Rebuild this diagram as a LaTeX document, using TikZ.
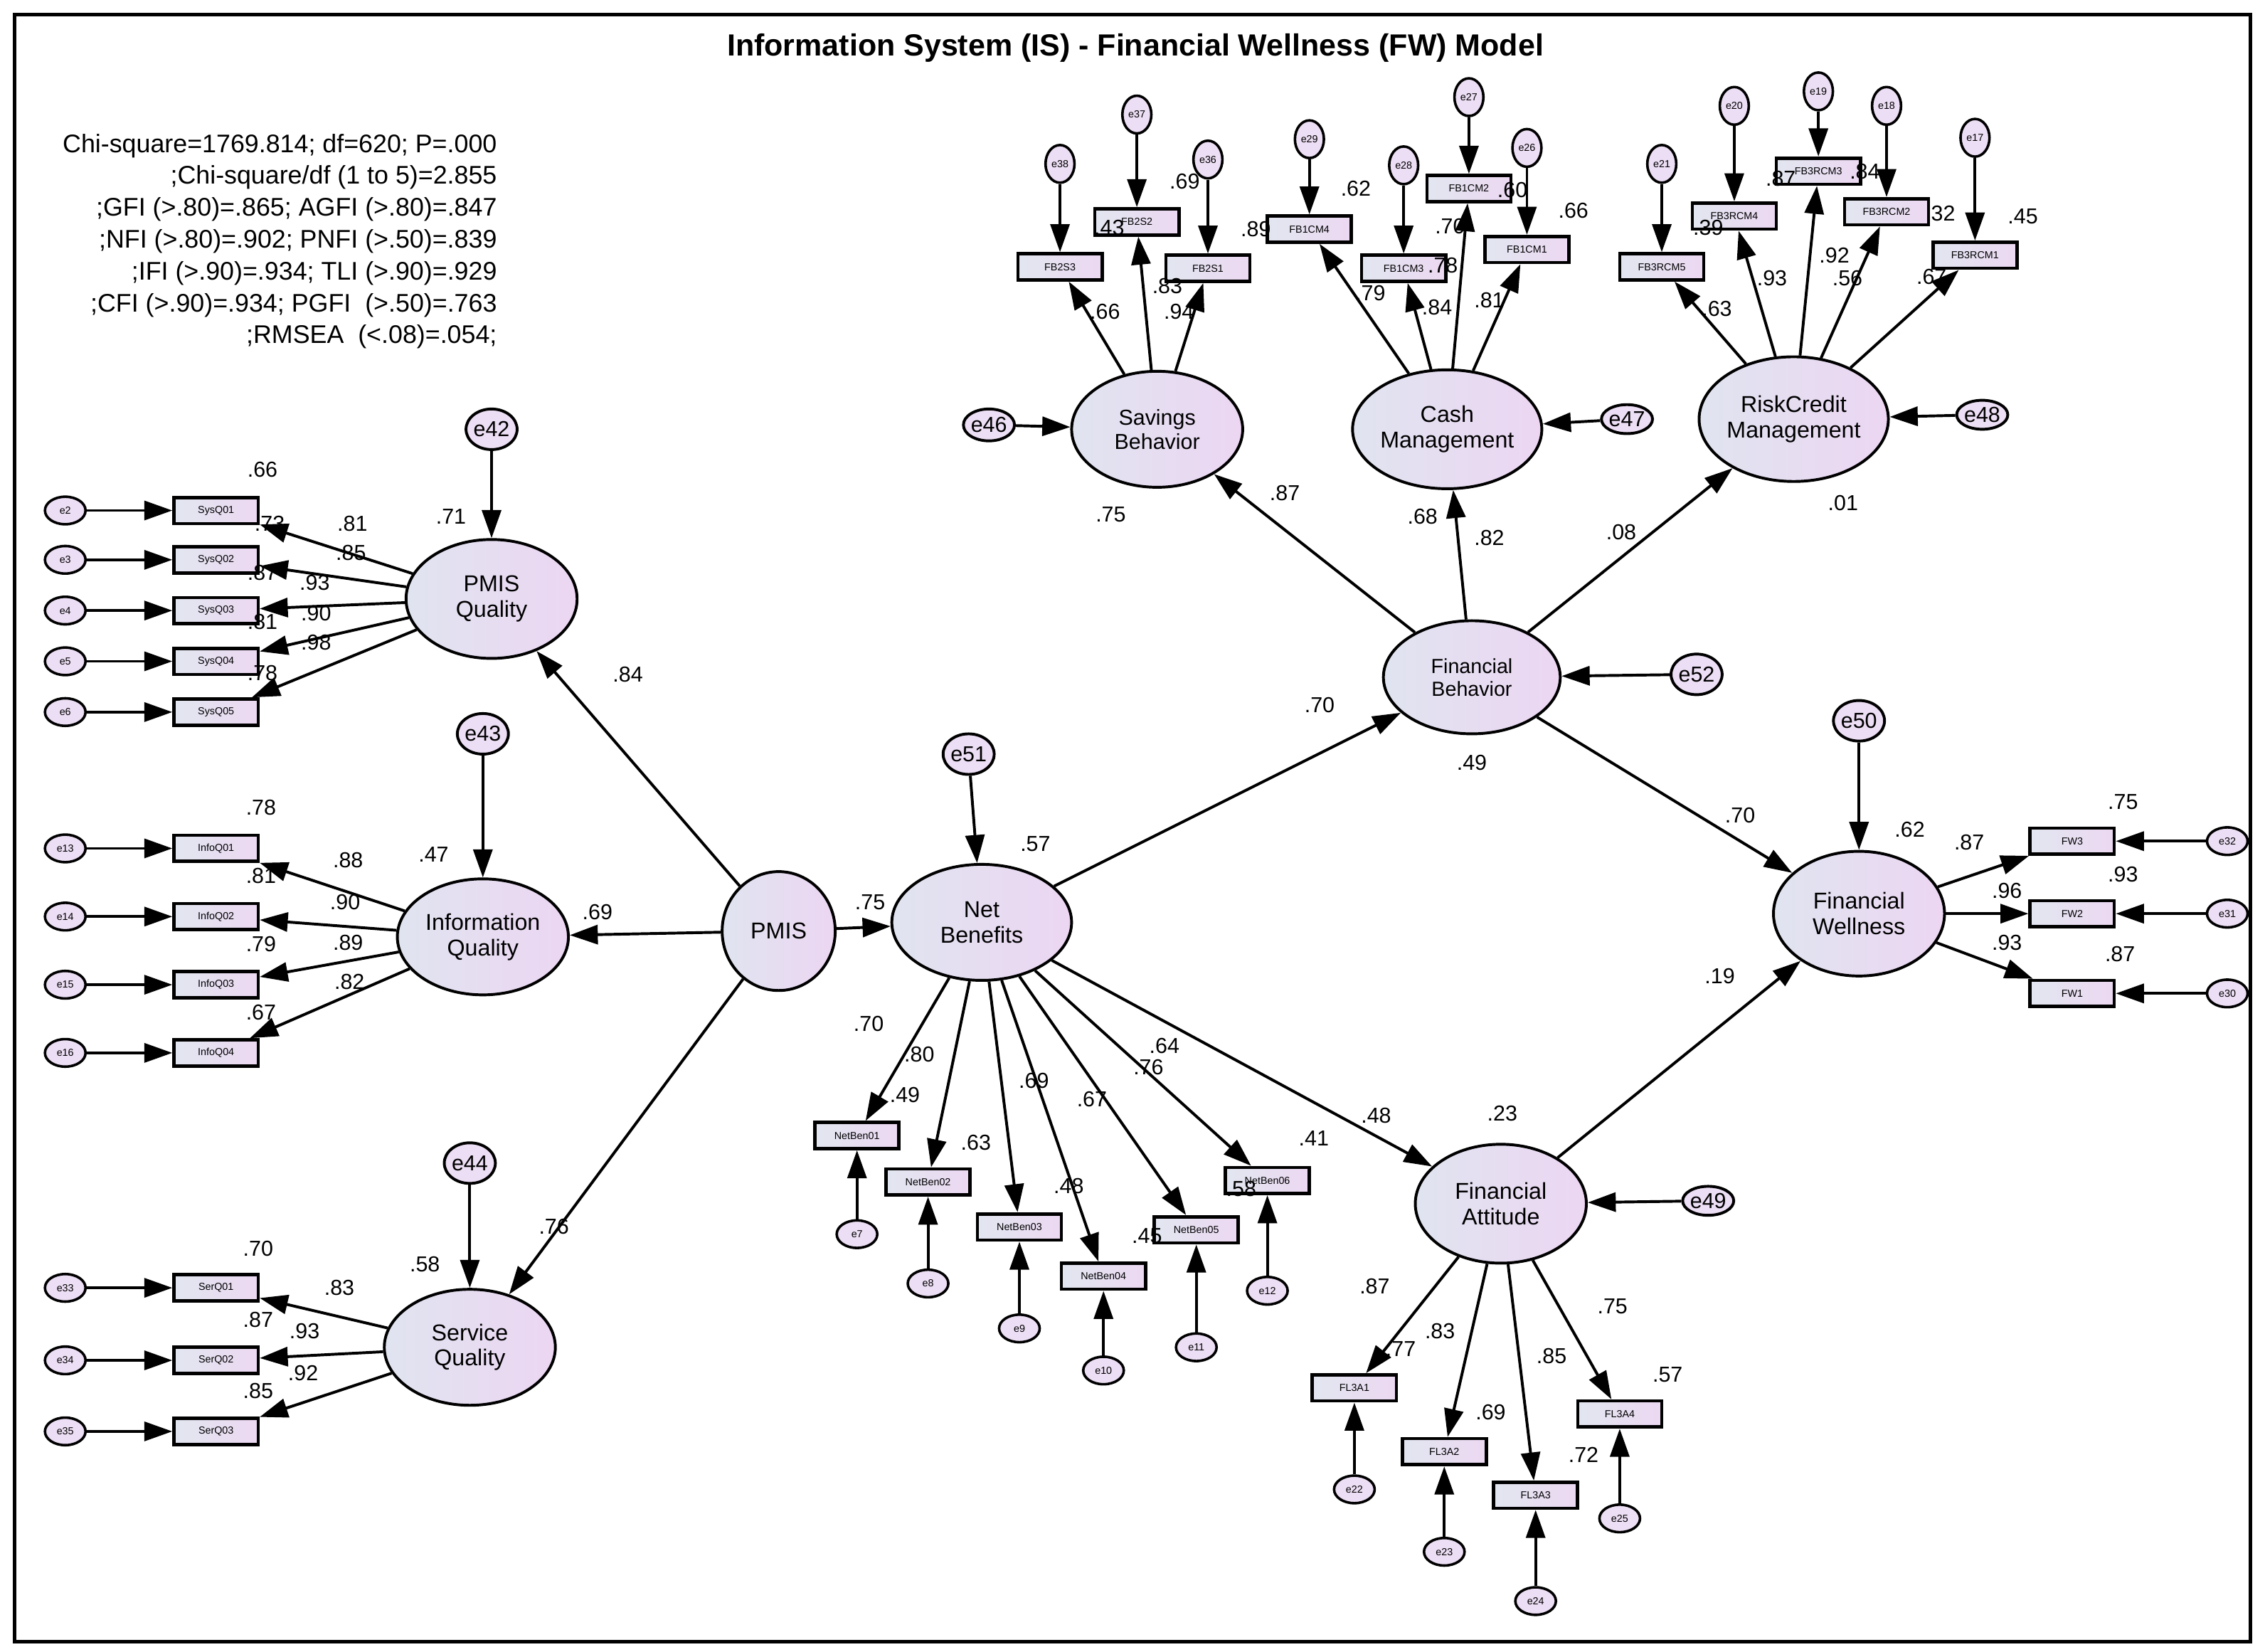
\documentclass[tikz,border=0pt]{standalone}
\usepackage{fontspec}
\setmainfont{Liberation Sans}
\usetikzlibrary{arrows.meta,shapes.geometric}
\begin{document}
\begin{tikzpicture}[x=0.02cm,y=-0.02cm,
  lat/.style={ellipse,draw,line width=1.1pt,left color={rgb,255:red,224;green,228;blue,240},right color={rgb,255:red,236;green,214;blue,242},inner sep=0pt,align=center,font=\fontsize{9}{10}\selectfont},
  err/.style={ellipse,draw,line width=1.1pt,fill={rgb,255:red,236;green,222;blue,244},inner sep=0pt,minimum width=0.58cm,minimum height=0.56cm,font=\fontsize{8.5}{9}\selectfont},
  se/.style={ellipse,draw,line width=1pt,fill={rgb,255:red,236;green,222;blue,244},inner sep=0pt,minimum width=0.56cm,minimum height=0.38cm,font=\fontsize{4}{5}\selectfont},
  box/.style={rectangle,draw,line width=1.3pt,left color={rgb,255:red,226;green,230;blue,240},right color={rgb,255:red,236;green,216;blue,242},inner sep=0pt,minimum width=1.16cm,minimum height=0.36cm,font=\fontsize{4}{5}\selectfont},
  ar/.style={line width=1.1pt,-{Triangle[length=11pt,width=7.5pt]}},
  lb/.style={font=\fontsize{8.5}{9}\selectfont,inner sep=0pt}]
\useasboundingbox (0,0) rectangle (1562,1139);
\draw[line width=1.5pt] (10,10) rectangle (1552,1132);
\node[font=\bfseries\fontsize{12}{13}\selectfont] (title) at (783,33) {Information System (IS) - Financial Wellness (FW) Model};
\node[lb,align=right,anchor=north east,font=\fontsize{10}{12.5}\selectfont] (fit) at (343,92) {Chi-square=1769.814; df=620; P=.000\\;Chi-square/df (1 to 5)=2.855\\;GFI (>.80)=.865; AGFI (>.80)=.847\\;NFI (>.80)=.902; PNFI (>.50)=.839\\;IFI (>.90)=.934; TLI (>.90)=.929\\;CFI (>.90)=.934; PGFI \ (>.50)=.763\\;RMSEA \ (<.08)=.054;};
% latents
\node[lat,minimum width=2.36cm,minimum height=1.64cm] (pq) at (339,413) {PMIS\\Quality};
\node[lat,minimum width=2.36cm,minimum height=1.6cm] (iq) at (333,646) {Information\\Quality};
\node[lat,minimum width=2.36cm,minimum height=1.6cm] (sq) at (324,929) {Service\\Quality};
\node[lat,minimum width=1.56cm,minimum height=1.64cm] (pmis) at (537,642) {PMIS};
\node[lat,minimum width=2.48cm,minimum height=1.6cm] (nb) at (677,636) {Net\\Benefits};
\node[lat,minimum width=2.44cm,minimum height=1.56cm,font=\fontsize{8}{9}\selectfont] (fb) at (1015,467) {Financial\\Behavior};
\node[lat,minimum width=2.36cm,minimum height=1.6cm,font=\fontsize{8.5}{9.5}\selectfont] (sb) at (798,296) {Savings\\Behavior};
\node[lat,minimum width=2.36cm,minimum height=1.64cm] (cm) at (998,296) {Cash\\Management};
\node[lat,minimum width=2.4cm,minimum height=1.72cm] (rc) at (1237,289) {RiskCredit\\Management};
\node[lat,minimum width=2.36cm,minimum height=1.72cm] (fw) at (1282,630) {Financial\\Wellness};
\node[lat,minimum width=2.36cm,minimum height=1.64cm] (fa) at (1035,830) {Financial\\Attitude};
% latent errors
\node[err] (e42) at (339,296) {e42};
\node[err] (e43) at (333,506) {e43};
\node[err] (e44) at (324,802) {e44};
\node[err] (e51) at (668,520) {e51};
\node[err] (e52) at (1170,465) {e52};
\node[err] (e50) at (1282,497) {e50};
\node[err,minimum width=0.7cm,minimum height=0.44cm] (e46) at (682,293) {e46};
\node[err,minimum width=0.7cm,minimum height=0.4cm] (e47) at (1122,289) {e47};
\node[err,minimum width=0.66cm,minimum height=0.4cm] (e48) at (1367,286) {e48};
\node[err,minimum width=0.7cm,minimum height=0.4cm] (e49) at (1178,828) {e49};
\foreach \a/\b in {e42/pq,e43/iq,e44/sq,e51/nb,e52/fb,e50/fw,e46/sb,e47/cm,e48/rc,e49/fa,pmis/pq,pmis/iq,pmis/sq,pmis/nb,nb/fb,nb/fa,fb/sb,fb/cm,fb/rc,fb/fw,fa/fw}
  \draw[ar] (\a) -- (\b);
% left indicators (error left of box)
\foreach \n/\e/\y/\L in {SysQ01/e2/352/pq,SysQ02/e3/386/pq,SysQ03/e4/421/pq,SysQ04/e5/456/pq,SysQ05/e6/491/pq,
  InfoQ01/e13/585/iq,InfoQ02/e14/632/iq,InfoQ03/e15/679/iq,InfoQ04/e16/726/iq,
  SerQ01/e33/888/sq,SerQ02/e34/938/sq,SerQ03/e35/987/sq}{
  \node[box] (\n) at (149,\y) {\n};
  \node[se] (\e) at (45,\y) {\e};
  \draw[ar] (\e) -- (\n);
  \draw[ar] (\L) -- (\n);
}
% FW indicators (error right)
\foreach \n/\e/\y in {FW3/e32/580,FW2/e31/630,FW1/e30/685}{
  \node[box] (\n) at (1429,\y) {\n};
  \node[se] (\e) at (1536,\y) {\e};
  \draw[ar] (\e) -- (\n);
  \draw[ar] (fw) -- (\n);
}
% indicators with error below
\foreach \n/\e/\x/\y/\ey/\L in {NetBen01/e7/591/783/851/nb,NetBen02/e8/640/815/885/nb,NetBen03/e9/703/846/916/nb,NetBen04/e10/761/880/945/nb,NetBen05/e11/825/848/929/nb,NetBen06/e12/874/814/890/nb,
  FL3A1/e22/934/957/1027/fa,FL3A2/e23/996/1001/1070/fa,FL3A3/e24/1059/1031/1104/fa,FL3A4/e25/1117/975/1047/fa}{
  \node[box] (\n) at (\x,\y) {\n};
  \node[se] (\e) at (\x,\ey) {\e};
  \draw[ar] (\e) -- (\n);
  \draw[ar] (\L) -- (\n);
}
% indicators with error above
\foreach \n/\e/\x/\y/\ey/\L in {FB2S3/e38/731/184/113/sb,FB2S2/e37/784/153/79/sb,FB2S1/e36/833/185/110/sb,
  FB1CM4/e29/903/158/96/cm,FB1CM3/e28/968/185/114/cm,FB1CM2/e27/1013/130/67/cm,FB1CM1/e26/1053/172/102/cm,
  FB3RCM5/e21/1146/184/113/rc,FB3RCM4/e20/1196/149/73/rc,FB3RCM3/e19/1254/118/63/rc,FB3RCM2/e18/1301/146/73/rc,FB3RCM1/e17/1362/176/95/rc}{
  \node[box] (\n) at (\x,\y) {\n};
  \node[se,minimum width=0.4cm,minimum height=0.52cm] (\e) at (\x,\ey) {\e};
  \draw[ar] (\e) -- (\n);
  \draw[ar] (\L) -- (\n);
}
% labels
\foreach \t/\x/\y [count=\i] in {.66/181/324,.81/243/361,.73/186/361,.85/242/381,.87/181/395,.93/217/402,.90/218/423,.81/181/429,.98/218/443,.78/181/464,.71/311/356,
 .78/180/557,.88/240/593,.81/180/604,.90/238/622,.79/180/651,.89/240/650,.82/241/677,.67/180/698,.47/299/589,.69/412/629,
 .70/178/861,.83/234/888,.87/178/910,.93/210/918,.92/209/947,.85/178/959,.58/293/872,.76/382/846,.84/433/465,.75/600/622,
 .57/714/582,.70/599/706,.80/634/727,.49/624/755,.69/713/745,.67/753/758,.63/673/788,.48/737/818,.64/803/721,.76/792/736,.45/791/852,.58/856/820,.41/906/785,.48/949/769,
 .70/910/486,.49/1015/526,.87/886/340,.82/1027/371,.08/1118/367,.75/766/355,.68/981/356,.01/1271/347,
 .70/1200/562,.62/1317/572,.19/1186/673,.87/1358/581,.96/1384/614,.93/1384/650,.75/1464/553,.93/1464/603,.87/1462/658,
 .23/1036/768,.87/948/887,.83/993/918,.85/1070/935,.75/1112/901,.77/966/930,.69/1028/974,.72/1092/1003,.57/1150/948,
 .66/762/215,.83/805/197,.94/813/215,.43/765/157,.69/817/125,.89/866/158,.62/935/130,.79/945/202,.84/991/212,.78/995/183,.70/1000/156,.81/1027/207,.60/1043/131,.66/1085/145,
 .63/1184/213,.39/1178/157,.93/1222/192,.87/1228/123,.92/1265/176,.84/1286/118,.56/1274/192,.67/1332/191,.32/1338/147,.45/1395/149}
  \node[lb] (l\i) at (\x,\y) {\t};
\end{tikzpicture}
\end{document}
